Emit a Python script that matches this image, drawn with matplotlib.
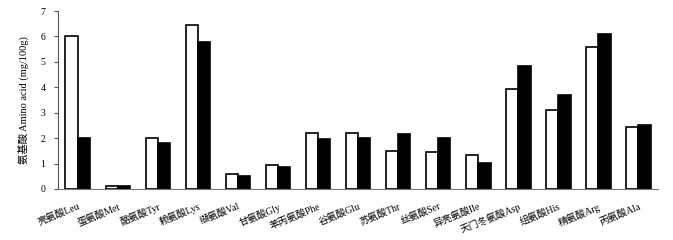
import numpy as np
import matplotlib.pyplot as plt

plt.rcParams['font.family'] = ['Liberation Serif', 'Noto Sans CJK SC', 'DejaVu Sans']

categories = ['亮氨酸Leu', '蛋氨酸Met', '酪氨酸Tyr', '赖氨酸Lys', '缬氨酸Val', '甘氨酸Gly',
              '苯丙氨酸Phe', '谷氨酸Glu', '苏氨酸Thr', '丝氨酸Ser', '异亮氨酸Ile',
              '天门冬氨酸Asp', '组氨酸His', '精氨酸Arg', '丙氨酸Ala']
white_vals = [6.02, 0.10, 2.00, 6.45, 0.58, 0.93, 2.20, 2.22, 1.50, 1.47, 1.33, 3.95, 3.10, 5.60, 2.42]
black_vals = [2.00, 0.10, 1.80, 5.78, 0.52, 0.85, 1.98, 2.00, 2.18, 2.00, 1.02, 4.85, 3.70, 6.08, 2.50]

x = np.arange(len(categories))
w = 0.31

fig = plt.figure(figsize=(6.73, 2.4), dpi=100)
ax = fig.add_axes([0.086, 0.2125, 0.892, 0.7415])
ax.bar(x - w / 2, white_vals, w, color='white', edgecolor='black', linewidth=1.2)
ax.bar(x + w / 2, black_vals, w, color='black', edgecolor='black', linewidth=1.2)

ax.set_xlim(-0.5, len(categories) - 0.5)
ax.set_ylim(0, 7)
ax.set_yticks(range(8))
ax.set_yticklabels([str(i) for i in range(8)], fontsize=7)
ax.tick_params(axis='y', direction='out', length=3, width=0.8, pad=6, color='#555555')
ax.set_xticks(x)
ax.set_xticklabels(categories, rotation=22, ha='right', rotation_mode='anchor', fontsize=7)
ax.tick_params(axis='x', length=0, pad=9)

ax.spines['top'].set_visible(False)
ax.spines['right'].set_visible(False)
ax.spines['left'].set_color('#555555')
ax.spines['bottom'].set_color('#777777')
ax.set_ylabel('氨基酸 Amino acid (mg/100g)', fontsize=7.5, labelpad=8)

fig.savefig('out.png', dpi=100)
